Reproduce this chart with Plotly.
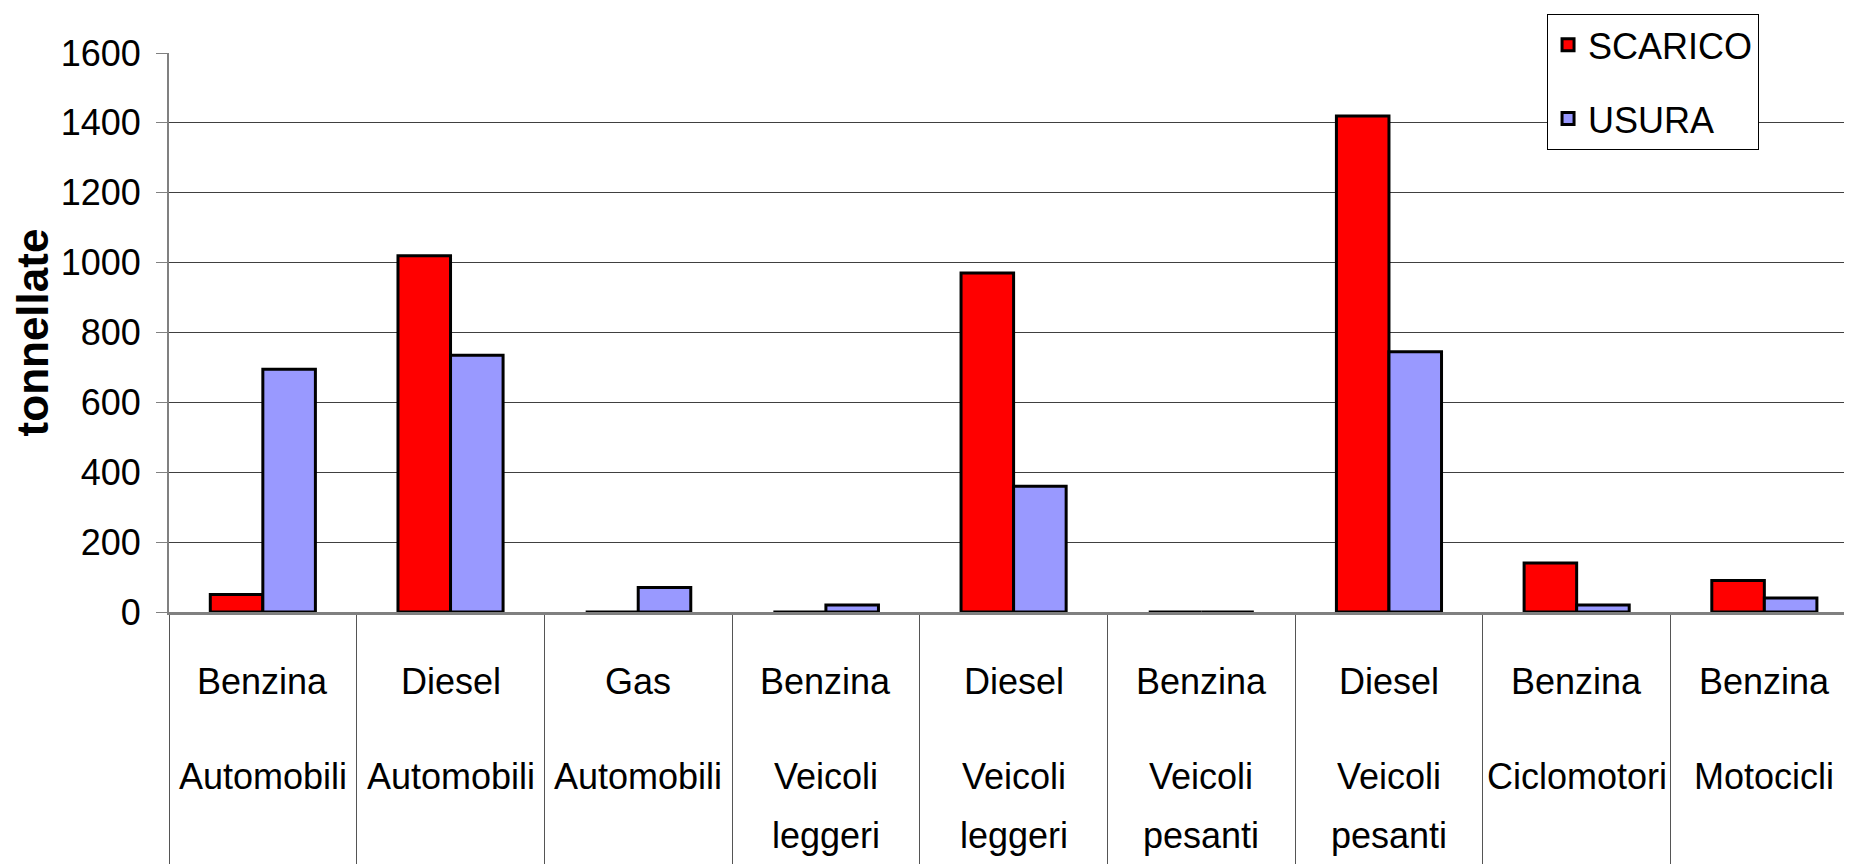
import plotly.graph_objects as go

# category labels (two levels: fuel / vehicle type)
fuel = ["Benzina", "Diesel", "Gas", "Benzina", "Diesel", "Benzina", "Diesel", "Benzina", "Benzina"]
vehicle = [
    "Automobili", "Automobili", "Automobili",
    "Veicoli<br>leggeri", "Veicoli<br>leggeri",
    "Veicoli<br>pesanti", "Veicoli<br>pesanti",
    "Ciclomotori", "Motocicli",
]
categories = [f"{f} {v.replace('<br>', ' ')}" for f, v in zip(fuel, vehicle)]

# tonnellate
scarico = [50, 1020, 0, 0, 970, 0, 1420, 140, 90]
usura = [695, 735, 70, 20, 360, 0, 745, 20, 40]

FONT = "Liberation Sans, Arial, sans-serif"
SIZE = 36

fig = go.Figure()
fig.add_trace(
    go.Bar(
        x=categories,
        y=scarico,
        name="SCARICO",
        legendgroup="scarico",
        marker=dict(color="#FF0000", line=dict(color="black", width=3)),
    )
)
fig.add_trace(
    go.Bar(
        x=categories,
        y=usura,
        name="USURA",
        legendgroup="usura",
        marker=dict(color="#9999FF", line=dict(color="black", width=3)),
    )
)

annotations = []
for cat, f, v in zip(categories, fuel, vehicle):
    annotations.append(
        dict(x=cat, xref="x", y=0, yref="paper", text=f, showarrow=False,
             yanchor="middle", yshift=-69, font=dict(family=FONT, size=SIZE, color="black"))
    )
    for k, line in enumerate(v.split("<br>")):
        annotations.append(
            dict(x=cat, xref="x", y=0, yref="paper", text=line, showarrow=False,
                 yanchor="middle", yshift=-164 - 59 * k,
                 font=dict(family=FONT, size=SIZE, color="black"))
        )

fig.update_layout(
    width=1844,
    height=856,
    margin=dict(l=161, r=0, t=45, b=252),
    paper_bgcolor="white",
    plot_bgcolor="white",
    barmode="group",
    bargap=0.44,
    bargroupgap=0,
    font=dict(family=FONT, size=SIZE, color="black"),
    showlegend=True,
    legend=dict(
        x=0.8188, y=1.07, xanchor="left", yanchor="top",
        bgcolor="white", bordercolor="black", borderwidth=1,
        tracegroupgap=24, traceorder="grouped",
        font=dict(family=FONT, size=SIZE, color="black"),
    ),
    xaxis=dict(
        range=[-0.5, 8.467],
        showticklabels=False,
        ticks="outside",
        tickson="boundaries",
        ticklen=252,
        tickcolor="#555555",
        tickwidth=1,
        showline=True,
        linecolor="#808080",
        linewidth=3,
        showgrid=False,
        layer="above traces",
    ),
    yaxis=dict(
        range=[0, 1600],
        dtick=200,
        ticks="outside",
        ticklen=11,
        tickcolor="#808080",
        tickwidth=1,
        ticklabelstandoff=8,
        showline=True,
        linecolor="#808080",
        linewidth=2,
        showgrid=True,
        gridcolor="#404040",
        gridwidth=1,
        zeroline=False,
        tickfont=dict(family=FONT, size=SIZE, color="black"),
        title=dict(
            text="tonnellate",
            font=dict(family=FONT, size=44, color="black", weight="bold"),
            standoff=10,
        ),
    ),
    annotations=annotations,
)

fig.write_html("out.html")
